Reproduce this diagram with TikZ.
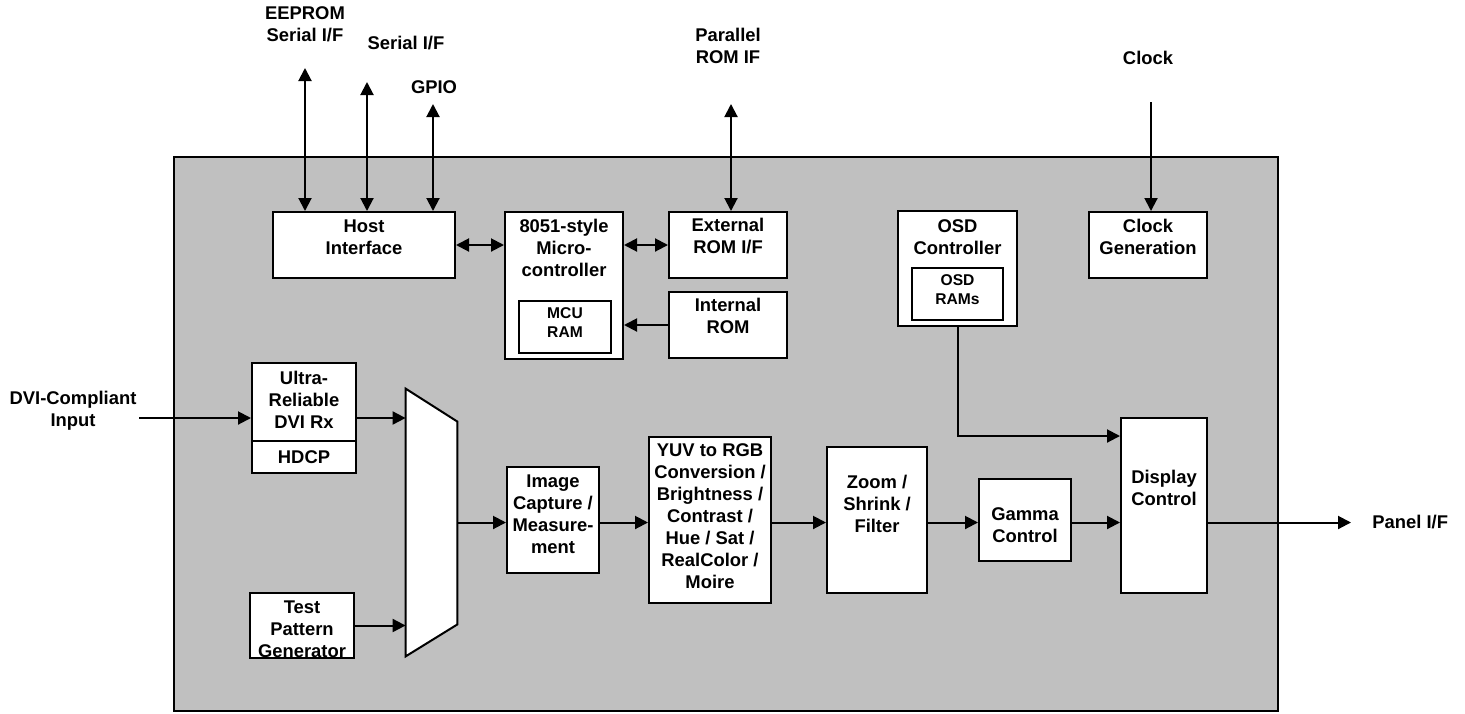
\documentclass[tikz,border=0pt]{standalone}
\usepackage{fontspec}
\setmainfont{Liberation Sans}
\usetikzlibrary{arrows.meta,positioning,calc}
\definecolor{chipgray}{RGB}{192,192,192}

\begin{document}
\begin{tikzpicture}[x=0.5pt,y=-0.5pt,
	font=\fontsize{9.2}{11}\selectfont\bfseries,
	blk/.style={draw, line width=1pt, fill=white, inner sep=0pt},
	txt/.style={align=center, inner sep=0pt},
	small/.style={font=\fontsize{7.8}{9.5}\selectfont\bfseries},
	sig/.style={line width=1pt, >={Triangle[length=6.5pt,width=6.5pt]}}]
	\useasboundingbox (0,0) rectangle (1465,713);
	\draw[line width=1pt, fill=chipgray] (174,157) rectangle (1278,711);

	% top row
	\node[blk, minimum width=91pt, minimum height=33pt, label={[txt,yshift=4pt]center:Host\\Interface}] (host) at (364,245) {};
	\node[blk, minimum width=59pt, minimum height=73.5pt, label={[txt,yshift=19pt]center:8051-style\\Micro-\\controller}] (mcu) at (564,285.5) {};
	\node[blk, minimum width=46pt, minimum height=26pt, label={[txt,small,yshift=2pt]center:MCU\\RAM}] (mcuram) at (565,327) {};
	\node[blk, minimum width=59pt, minimum height=33pt, label={[txt,yshift=4.5pt]center:External\\ROM I/F}] (extrom) at (728,245) {};
	\node[blk, minimum width=59pt, minimum height=33pt, label={[txt,yshift=4.5pt]center:Internal\\ROM}] (introm) at (728,325) {};
	\node[blk, minimum width=59.5pt, minimum height=57.5pt, label={[txt,yshift=15.75pt]center:OSD\\Controller}] (osd) at (957.5,268.5) {};
	\node[blk, minimum width=45.5pt, minimum height=26pt, label={[txt,small,yshift=2pt]center:OSD\\RAMs}] (osdram) at (957.5,294) {};
	\node[blk, minimum width=59pt, minimum height=33pt, label={[txt,yshift=4pt]center:Clock\\Generation}] (clkgen) at (1148,245) {};

	% video path
	\node[blk, minimum width=52pt, minimum height=39pt, label={[txt,yshift=1pt]center:Ultra-\\Reliable\\DVI Rx}] (dvirx) at (304,402) {};
	\node[blk, minimum width=52pt, minimum height=16pt, label={[txt]center:HDCP}] (hdcp) at (304,457) {};
	\node[blk, minimum width=52pt, minimum height=32.5pt, label={[txt,yshift=-1.75pt]center:Test\\Pattern\\Generator}] (tpg) at (302,625.5) {};
	\node[minimum width=25.5pt, minimum height=133.5pt, inner sep=0pt] (mux) at (431.5,522.5) {};
	\draw[line width=1pt, fill=white] (mux.north west) -- ([yshift=-16.5pt]mux.north east) -- ([yshift=16pt]mux.south east) -- (mux.south west) -- cycle;
	\node[blk, minimum width=46pt, minimum height=53pt, label={[txt,yshift=3pt]center:Image\\Capture /\\Measure-\\ment}] (capture) at (553,520) {};
	\node[blk, minimum width=61pt, minimum height=83pt, label={[txt,yshift=2pt]center:YUV to RGB\\Conversion /\\Brightness /\\Contrast /\\Hue / Sat /\\RealColor /\\Moire}] (csc) at (710,520) {};
	\node[blk, minimum width=50pt, minimum height=73pt, label={[txt,yshift=8pt]center:Zoom /\\Shrink /\\Filter}] (scaler) at (877,520) {};
	\node[blk, minimum width=46pt, minimum height=41pt, label={[txt,yshift=-2.5pt]center:Gamma\\Control}] (gamma) at (1025,520) {};
	\node[blk, minimum width=43pt, minimum height=87.5pt, label={[txt,yshift=9pt]center:Display\\Control}] (disp) at (1164,505.5) {};

	% outside labels
	\node[txt] (eepromlbl) at (305,24) {EEPROM\\Serial I/F};
	\node[txt] (seriallbl) at (406,43) {Serial I/F};
	\node[txt] (gpiolbl) at (434,87) {GPIO};
	\node[txt] (parlbl) at (728,46) {Parallel\\ROM IF};
	\node[txt] (clklbl) at (1148,58) {Clock};
	\node[txt] (dvilbl) at (73,411) {DVI-Compliant\\Input};
	\node[txt, anchor=west] (panellbl) at (1372,522) {Panel I/F};

	\coordinate (eeprom) at (305,68);
	\coordinate (serial) at (367,82);
	\coordinate (gpio) at (433,104);
	\coordinate (parrom) at (731,104);
	\coordinate (clk) at (1151,102);
	\coordinate (dviin) at (139,418);
	\coordinate (panel) at (1351,522);
	\coordinate (bus) at (mux.east);

	% connectors
	\draw[sig, <->] (eeprom) -- (eeprom |- host.north);
	\draw[sig, <->] (serial) -- (serial |- host.north);
	\draw[sig, <->] (gpio) -- (gpio |- host.north);
	\draw[sig, <->] (parrom) -- (parrom |- extrom.north);
	\draw[sig, ->] (clk) -- (clk |- clkgen.north);
	\draw[sig, <->] (host.east) -- (host.east -| mcu.west);
	\draw[sig, <->] (extrom.west -| mcu.east) -- (extrom.west);
	\draw[sig, ->] (introm.west) -- (introm.west -| mcu.east);
	\draw[sig, ->] (dviin) -- (dviin -| dvirx.west);
	\draw[sig, ->] (dviin -| dvirx.east) -- (dviin -| mux.west);
	\draw[sig, ->] (tpg.east) -- (tpg.east -| mux.west);
	\draw[sig, ->] (bus) -- (bus -| capture.west);
	\draw[sig, ->] (bus -| capture.east) -- (bus -| csc.west);
	\draw[sig, ->] (bus -| csc.east) -- (bus -| scaler.west);
	\draw[sig, ->] (bus -| scaler.east) -- (bus -| gamma.west);
	\draw[sig, ->] (bus -| gamma.east) -- (bus -| disp.west);
	\draw[sig, ->] (bus -| disp.east) -- (bus -| panel);
	\draw[sig, ->] (osd.south) |- ([yshift=-9.5pt]disp.north west);
\end{tikzpicture}
\end{document}
